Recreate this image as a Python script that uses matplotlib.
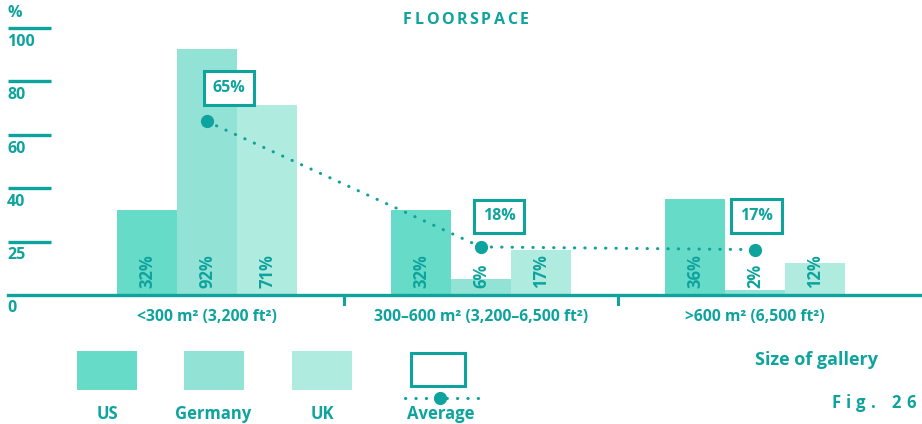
import numpy as np
import matplotlib
matplotlib.use('Agg')
import matplotlib.pyplot as plt
from matplotlib.patches import Rectangle

# data
categories = ['<300 m² (3,200 ft²)', '300–600 m² (3,200–6,500 ft²)', '>600 m² (6,500 ft²)']
series_names = ['US', 'Germany', 'UK']
us = [32, 32, 36]
germany = [92, 6, 2]
uk = [71, 17, 12]
average = [65, 18, 17]
tick_pos = [20, 40, 60, 80, 100]
tick_labels = ['25', '40', '60', '80', '100']

TEAL = '#0fa39e'
COLORS = ['#66dbc8', '#92e3d6', '#b0ebe0']
W, H = 922, 424

plt.rcParams['font.family'] = ['Open Sans', 'DejaVu Sans']
plt.rcParams['font.weight'] = 'bold'

fig = plt.figure(figsize=(W / 100, H / 100), dpi=100)

# overlay in pixel coordinates for title / legend / notes
lax = fig.add_axes([0, 0, 1, 1], zorder=0)
lax.set_xlim(0, W)
lax.set_ylim(H, 0)
lax.axis('off')

ax = fig.add_axes([0, 129 / H, 1, 267 / H], zorder=1)
ax.patch.set_alpha(0)
px = 274.0  # pixels per category unit
ax.set_xlim(-207 / px, (W - 207) / px)
ax.set_ylim(0, 100)
ax.axis('off')

x = np.arange(len(categories))
bw = 60 / px
for i, (vals, col) in enumerate(zip([us, germany, uk], COLORS)):
    xs = x + (i - 1) * bw
    ax.bar(xs, vals, width=bw, color=col, linewidth=0, zorder=2)
    for xi, v in zip(xs, vals):
        ax.annotate(f'{v}%', xy=(xi, 0), xytext=(0, 5), textcoords='offset points',
                    rotation=90, ha='center', va='bottom', color=TEAL,
                    fontsize=12, fontweight='bold', zorder=3)

# baseline and separators
ax.axhline(0, xmin=8 / W, xmax=1, color=TEAL, lw=2.4, zorder=4, clip_on=False)
for s in [0.5, 1.5]:
    ax.plot([s, s], [0, -3.5], color=TEAL, lw=2.2, clip_on=False, zorder=4)

# y ticks: short bars with labels under them
ytr = ax.get_yaxis_transform()
ax.hlines(tick_pos, 8 / W, 51 / W, transform=ytr, color=TEAL, lw=2.4, clip_on=False)
for p, lab in zip(tick_pos, tick_labels):
    ax.annotate(lab, xy=(7 / W, p), xycoords=ytr, xytext=(0, -10), textcoords='offset points',
                ha='left', va='center', color=TEAL, fontsize=11.5, fontweight='bold')
ax.annotate('0', xy=(7 / W, 0), xycoords=ytr, xytext=(0, -9), textcoords='offset points',
            ha='left', va='center', color=TEAL, fontsize=11.5, fontweight='bold')

# category labels
for xi, c in zip(x, categories):
    ax.annotate(c, xy=(xi, 0), xytext=(0, -16), textcoords='offset points',
                ha='center', va='center', color=TEAL, fontsize=11.3, fontweight='bold')

# average line
ax.plot(x, average, color=TEAL, lw=2.2, dashes=(0.1, 3.3), dash_capstyle='round', zorder=5)
ax.plot(x, average, 'o', color=TEAL, ms=8.5, zorder=6)
box_offsets = [(16, 24), (13, 22), (1, 24)]
for xi, v, off in zip(x, average, box_offsets):
    ax.annotate(f'{v}%', xy=(xi, v), xytext=off, textcoords='offset points',
                ha='center', va='center', color=TEAL, fontsize=11.5, fontweight='bold', zorder=7,
                bbox=dict(boxstyle='square,pad=0.55', fc='white', ec=TEAL, lw=2.2))


def tracked(ax, x0, y0, s, track, **kw):
    r = fig.canvas.get_renderer()
    cur = x0
    for ch in s:
        t = ax.text(cur, y0, ch, ha='left', va='center', **kw)
        bb = t.get_window_extent(renderer=r)
        cur += bb.width + track


# title and "%"
tracked(lax, 403, 20, 'FLOORSPACE', 2.6, color=TEAL, fontsize=11.5, fontweight='bold')
lax.text(7, 13, '%', ha='left', va='center', color=TEAL, fontsize=11.5, fontweight='bold')

# legend
sw_x = [77, 184, 292]
lab_x = [107, 213, 322]
for sx, lx, col, name in zip(sw_x, lab_x, COLORS, series_names):
    lax.add_patch(Rectangle((sx, 351), 60, 39, color=col, lw=0))
    lax.text(lx, 414, name, ha='center', va='center', color=TEAL, fontsize=12, fontweight='bold')
lax.add_patch(Rectangle((411, 353), 54, 33, fc='white', ec=TEAL, lw=2.2))
lax.plot([405, 485], [398, 398], color=TEAL, lw=2.2, dashes=(0.1, 3.3), dash_capstyle='round')
lax.plot([440], [398], 'o', color=TEAL, ms=8.5)
lax.text(441, 414, 'Average', ha='center', va='center', color=TEAL, fontsize=12, fontweight='bold')

lax.text(755, 360, 'Size of gallery', ha='left', va='center', color=TEAL, fontsize=13, fontweight='bold')
tracked(lax, 831, 403, 'Fig. 26', 5.5, color=TEAL, fontsize=12, fontweight='bold')

fig.savefig('out.png', dpi=100)
